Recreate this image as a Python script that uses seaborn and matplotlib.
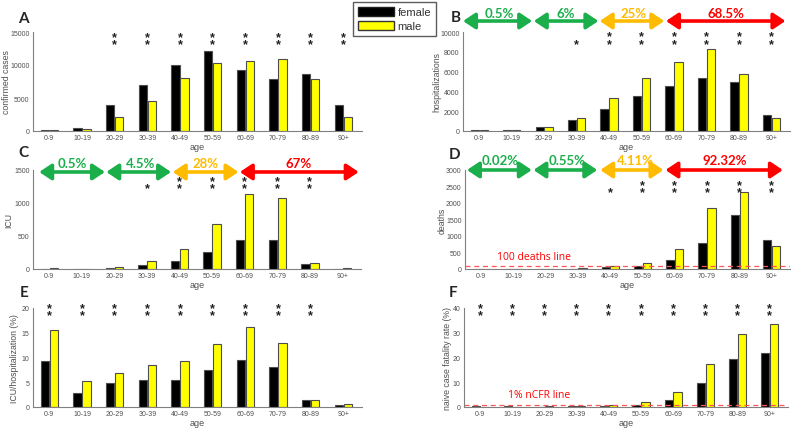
import matplotlib
matplotlib.use("Agg")
import matplotlib.pyplot as plt
from matplotlib.patches import Patch
import seaborn as sns
import pandas as pd

# ---- data ----
age_groups = ['0-9', '10-19', '20-29', '30-39', '40-49',
              '50-59', '60-69', '70-79', '80-89', '90+']

cases_female = [200, 400, 4000, 7000, 10000, 12100, 9200, 7900, 8600, 4000]
cases_male = [200, 300, 2100, 4500, 8000, 10300, 10600, 10900, 7900, 2100]

hosp_female = [100, 100, 450, 1130, 2200, 3550, 4500, 5400, 5000, 1650]
hosp_male = [100, 100, 450, 1280, 3320, 5400, 6930, 8300, 5800, 1300]

icu_female = [5, 5, 20, 65, 120, 265, 432, 442, 76, 5]
icu_male = [10, 5, 35, 115, 310, 680, 1135, 1082, 95, 10]

deaths_female = [2, 2, 5, 10, 55, 95, 262, 775, 1640, 880]
deaths_male = [1, 1, 5, 20, 85, 195, 620, 1840, 2345, 705]

icu_hosp_female = [9.35, 2.8, 4.8, 5.45, 5.45, 7.4, 9.55, 8.1, 1.5, 0.5]
icu_hosp_male = [15.55, 5.2, 6.95, 8.5, 9.25, 12.65, 16.25, 12.95, 1.5, 0.7]

cfr_female = [0.5, 0.3, 0.2, 0.3, 0.4, 0.8, 2.8, 9.8, 19.2, 22.0]
cfr_male = [0.1, 0.1, 0.5, 0.5, 0.9, 1.9, 5.9, 17.2, 29.6, 33.7]

# significance marks per age group (number of stacked asterisks)
stars_cases = [0, 0, 2, 2, 2, 2, 2, 2, 2, 2]
stars_hosp = [0, 0, 0, 1, 2, 2, 2, 2, 2, 2]
stars_icu = [0, 0, 0, 1, 2, 2, 2, 2, 2, 0]
stars_deaths = [0, 0, 0, 0, 1, 2, 2, 2, 2, 2]
stars_icu_hosp = [2, 2, 2, 2, 2, 2, 2, 2, 2, 0]
stars_cfr = [2, 2, 2, 2, 2, 2, 2, 2, 2, 2]

share_hosp = ['0.5%', '6%', '25%', '68.5%']
share_icu = ['0.5%', '4.5%', '28%', '67%']
share_deaths = ['0.02%', '0.55%', '4.11%', '92.32%']

# ---- style ----
sns.set_style("white")
plt.rcParams['font.family'] = ['Liberation Sans', 'DejaVu Sans']
plt.rcParams['axes.unicode_minus'] = False

FEMALE = '#000000'
MALE = '#FFFF00'
EDGE = '#4d4d4d'
GREY = '#505050'
GREEN = '#1AAF4B'
ORANGE = '#FFBB00'
RED = '#FF0000'
SHARE_COLORS = [GREEN, GREEN, ORANGE, RED]

W, H = 795, 431
fig = plt.figure(figsize=(W / 100, H / 100), dpi=100)


def px_axes(left, top, right, bottom):
    return fig.add_axes([left / W, 1 - bottom / H, (right - left) / W, (bottom - top) / H])


def draw_panel(ax, female, male, ymax, ystep, ylabel, ylabel_x, letter, letter_xy):
    df = pd.DataFrame({
        'age': age_groups * 2,
        'sex': ['female'] * len(age_groups) + ['male'] * len(age_groups),
        'value': list(female) + list(male),
    })
    sns.barplot(data=df, x='age', y='value', hue='sex', order=age_groups,
                hue_order=['female', 'male'], palette={'female': FEMALE, 'male': MALE},
                saturation=1, width=0.55, gap=0.06, edgecolor=EDGE, linewidth=0.8,
                errorbar=None, legend=False, ax=ax)
    ax.set_xlim(-0.5, 9.57)
    ax.set_ylim(0, ymax)
    ax.set_yticks(range(0, ymax + 1, ystep))
    ax.set_ylabel(ylabel, fontsize=6.3, color=GREY)
    ax.yaxis.set_label_coords(ylabel_x, 0.5)
    ax.set_xlabel('age', fontsize=6.5, color=GREY)
    ax.xaxis.set_label_coords(0.5, -0.115)
    ax.tick_params(direction='in', length=2.5, width=0.6, colors='#777777',
                   labelsize=5, labelcolor=GREY, pad=2.5)
    for side in ['top', 'right']:
        ax.spines[side].set_visible(False)
    for side in ['left', 'bottom']:
        ax.spines[side].set_color('#808080')
        ax.spines[side].set_linewidth(0.8)
    fig.text(letter_xy[0] / W, 1 - letter_xy[1] / H, letter, fontsize=11,
             fontweight='bold', family=['Lato', 'DejaVu Sans'], ha='center', va='center')


def draw_stars(ax, counts, y_lower):
    # one or two asterisks stacked above each other, bottom edge at y_lower
    tr = ax.get_xaxis_transform()
    for i, n in enumerate(counts):
        if n == 0:
            continue
        ax.text(i, y_lower - 0.073, '\n'.join(['*'] * n), transform=tr,
                ha='center', va='bottom', linespacing=0.5, fontsize=9,
                fontweight='bold', color='#222222', clip_on=False)


def draw_shares(ax, labels, spans, text_x, arrow_y, text_y):
    tr = ax.get_xaxis_transform()
    for label, (x0, x1), tx, col in zip(labels, spans, text_x, SHARE_COLORS):
        ax.annotate('', xy=(x1, arrow_y), xytext=(x0, arrow_y), xycoords=tr,
                    textcoords=tr, annotation_clip=False,
                    arrowprops=dict(arrowstyle='<|-|>,head_length=0.6,head_width=0.4',
                                    color=col, lw=2.6, mutation_scale=12,
                                    shrinkA=0, shrinkB=0))
        ax.text(tx, text_y, label, transform=tr, ha='center', va='center',
                fontsize=9.5, fontweight='bold', color=col,
                family=['Lato', 'DejaVu Sans'], clip_on=False)


# ---- panels ----
ax_a = px_axes(33, 33, 362, 132)
draw_panel(ax_a, cases_female, cases_male, 15000, 5000, 'confirmed cases', -0.067, 'A', (23, 19))
draw_stars(ax_a, stars_cases, 0.885)

ax_b = px_axes(463, 33, 790, 132)
draw_panel(ax_b, hosp_female, hosp_male, 10000, 2000, 'hospitalizations', -0.067, 'B', (456, 18))
draw_stars(ax_b, stars_hosp, 0.89)
draw_shares(ax_b, share_hosp, [(-0.5, 1.63), (1.68, 3.67), (3.71, 5.70), (5.75, 9.43)],
            [0.61, 2.65, 4.74, 7.6], 1.111, 1.19)

ax_c = px_axes(33, 171, 361, 270)
draw_panel(ax_c, icu_female, icu_male, 1500, 500, 'ICU', -0.06, 'C', (23, 153))
draw_stars(ax_c, stars_icu, 0.825)
draw_shares(ax_c, share_icu, [(-0.31, 1.71), (1.75, 3.74), (3.79, 5.81), (5.85, 9.5)],
            [0.71, 2.81, 4.80, 7.67], 0.98, 1.07)

ax_d = px_axes(465, 171, 790, 270)
draw_panel(ax_d, deaths_female, deaths_male, 3000, 500, 'deaths', -0.058, 'D', (455, 155))
draw_stars(ax_d, stars_deaths, 0.785)
draw_shares(ax_d, share_deaths, [(-0.44, 1.57), (1.62, 3.60), (3.69, 5.65), (5.71, 9.35)],
            [0.58, 2.67, 4.77, 7.54], 1.0, 1.10)
ax_d.axhline(100, color='#FF5555', ls='--', lw=0.9, dashes=(4, 3))
ax_d.text(0.5, 385, '100 deaths line', color=RED, fontsize=7.5, ha='left', va='center',
          family=['Open Sans', 'DejaVu Sans'])

ax_e = px_axes(33, 309, 362, 408)
draw_panel(ax_e, icu_hosp_female, icu_hosp_male, 20, 5, 'ICU/hospitalization (%)', -0.043, 'E', (24, 293))
draw_stars(ax_e, stars_icu_hosp, 0.935)

ax_f = px_axes(464, 309, 788, 408)
draw_panel(ax_f, cfr_female, cfr_male, 40, 10, 'naive case fatality rate (%)', -0.037, 'F', (453, 293))
draw_stars(ax_f, stars_cfr, 0.935)
ax_f.axhline(1, color='#FF5555', ls='--', lw=0.9, dashes=(4, 3))
ax_f.text(0.86, 4.85, '1% nCFR line', color=RED, fontsize=7.5, ha='left', va='center',
          family=['Open Sans', 'DejaVu Sans'])

# ---- shared legend ----
leg = fig.legend(handles=[Patch(facecolor=FEMALE, edgecolor='#222222', label='female'),
                          Patch(facecolor=MALE, edgecolor='#333333', label='male')],
                 loc='center', bbox_to_anchor=(394.5 / W, 1 - 20 / H), frameon=True,
                 fancybox=False, edgecolor='#333333', fontsize=8, handlelength=3.3,
                 handleheight=0.9, borderpad=0.4, labelspacing=0.35, handletextpad=0.3,
                 borderaxespad=0)
leg.get_frame().set_linewidth(1.0)
for t in leg.get_texts():
    t.set_color('#333333')

fig.savefig('out.png', dpi=100)
